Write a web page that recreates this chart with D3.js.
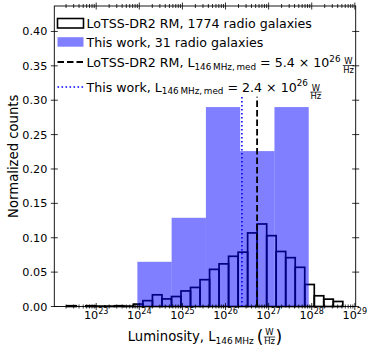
<!DOCTYPE html>
<html>
<head>
<meta charset="utf-8">
<script src="https://cdn.jsdelivr.net/npm/d3@7"></script>
<style>
  body { margin: 0; background: #fff; }
  svg { display: block; font-family: "DejaVu Sans", sans-serif; }
  svg text { white-space: pre; }
</style>
</head>
<body>
<div id="chart"></div>
<script>
// LoTSS-DR2 RM sample: bin edges (log10 L) and normalized counts
const lotssEdges = [22.097, 22.318, 22.539, 22.759, 22.980, 23.201, 23.422, 23.643, 23.863, 24.084,
    24.305, 24.526, 24.747, 24.967, 25.188, 25.409, 25.630, 25.850, 26.071, 26.292,
    26.513, 26.734, 26.955, 27.175, 27.396, 27.617, 27.838, 28.059, 28.279, 28.500, 28.721];
const lotssCounts = [0, 0.0011, 0, 0.0011, 0.0006, 0.0006, 0.0011, 0.0006, 0.0035, 0.0085,
    0.017, 0.011, 0.0145, 0.0226, 0.0277, 0.039, 0.054, 0.062, 0.073, 0.079,
    0.107, 0.120, 0.103, 0.080, 0.071, 0.057, 0.032, 0.0156, 0.0107, 0.0073];

// This work: bin edges (log10 L) and normalized counts
const workEdges = [23.955, 24.750, 25.545, 26.340, 27.135, 27.930];
const workCounts = [0.065, 0.129, 0.290, 0.226, 0.290];

// medians (W/Hz)
const lotssMedian = 5.4e26;
const workMedian = 2.4e26;

const yTicks = [0, 0.05, 0.10, 0.15, 0.20, 0.25, 0.30, 0.35, 0.40];
const xMajor = [22, 23, 24, 25, 26, 27, 28, 29];

const W = 374, H = 353;
const plot = { left: 54.3, right: 355.7, top: 6, bottom: 306.5 };

const svg = d3.select('#chart').append('svg')
    .attr('width', W)
    .attr('height', H);

// pick a font size so that a string has a given width
function fitSize(str, width) {
    const t = svg.append('text').style('font-size', '100px').text(str);
    const w = t.node().getComputedTextLength();
    t.remove();
    return 100 * width / w;
}

const xScale = d3.scaleLog()
    .domain([Math.pow(10, 22.028), Math.pow(10, 29.02)])
    .range([plot.left, plot.right]);

const yScale = d3.scaleLinear()
    .domain([0, 0.437])
    .range([plot.bottom, plot.top]);

const BLUE_FILL = 'rgba(0,0,255,0.5)';
const ex = e => xScale(Math.pow(10, e));

// LoTSS histogram: outlined bars (drawn first, blue bars go on top)
svg.append('g').selectAll('rect')
    .data(lotssCounts)
    .enter()
    .append('rect')
    .attr('x', (d, i) => ex(lotssEdges[i]))
    .attr('width', (d, i) => ex(lotssEdges[i + 1]) - ex(lotssEdges[i]))
    .attr('y', d => yScale(d))
    .attr('height', d => yScale(0) - yScale(d))
    .attr('fill', 'none')
    .attr('stroke', '#000')
    .attr('stroke-width', 1.7);

// This work bars
svg.append('g').selectAll('rect')
    .data(workCounts)
    .enter()
    .append('rect')
    .attr('x', (d, i) => ex(workEdges[i]))
    .attr('width', (d, i) => ex(workEdges[i + 1]) - ex(workEdges[i]))
    .attr('y', d => yScale(d))
    .attr('height', d => yScale(0) - yScale(d))
    .attr('fill', BLUE_FILL);

// median lines
const vTop = 0.305;
svg.append('line')
    .attr('x1', xScale(lotssMedian)).attr('x2', xScale(lotssMedian))
    .attr('y1', yScale(0)).attr('y2', yScale(vTop))
    .attr('stroke', '#000')
    .attr('stroke-width', 1.8)
    .attr('stroke-dasharray', '6.5,3');

svg.append('line')
    .attr('x1', xScale(workMedian)).attr('x2', xScale(workMedian))
    .attr('y1', yScale(0)).attr('y2', yScale(vTop))
    .attr('stroke', '#0000ff')
    .attr('stroke-width', 1.6)
    .attr('stroke-dasharray', '1.6,2.4');

// frame
svg.append('rect')
    .attr('x', plot.left).attr('y', plot.top)
    .attr('width', plot.right - plot.left)
    .attr('height', plot.bottom - plot.top)
    .attr('fill', 'none')
    .attr('stroke', '#000')
    .attr('stroke-width', 0.9);

// ticks
const ticks = svg.append('g').attr('stroke', '#000').attr('stroke-width', 0.8);
const xMinor = [];
xMajor.forEach(e => {
    for (let m = 2; m <= 9; m++) xMinor.push(m * Math.pow(10, e));
});
const xDom = xScale.domain();
xMajor.map(e => Math.pow(10, e)).filter(v => v >= xDom[0] && v <= xDom[1]).forEach(v => {
    const x = xScale(v);
    ticks.append('line').attr('x1', x).attr('x2', x).attr('y1', plot.bottom - 3.5).attr('y2', plot.bottom + 3.5);
    ticks.append('line').attr('x1', x).attr('x2', x).attr('y1', plot.top - 3.5).attr('y2', plot.top + 3.5);
});
xMinor.filter(v => v >= xDom[0] && v <= xDom[1]).forEach(v => {
    const x = xScale(v);
    ticks.append('line').attr('x1', x).attr('x2', x).attr('y1', plot.bottom - 2).attr('y2', plot.bottom + 2);
    ticks.append('line').attr('x1', x).attr('x2', x).attr('y1', plot.top - 2).attr('y2', plot.top + 2);
});
yTicks.forEach(v => {
    const y = yScale(v);
    ticks.append('line').attr('x1', plot.left - 3.5).attr('x2', plot.left + 3.5).attr('y1', y).attr('y2', y);
    ticks.append('line').attr('x1', plot.right - 3.5).attr('x2', plot.right + 3.5).attr('y1', y).attr('y2', y);
});

// y tick labels
const TF = fitSize('0.40', 25);
svg.append('g').selectAll('text')
    .data(yTicks)
    .enter()
    .append('text')
    .attr('x', plot.left - 7)
    .attr('y', d => yScale(d) + 4)
    .attr('text-anchor', 'end')
    .style('font-size', TF + 'px')
    .style('fill', '#000')
    .text(d => d3.format('.2f')(d));

// x tick labels 10^n
xMajor.filter(e => Math.pow(10, e) >= xDom[0] && Math.pow(10, e) <= xDom[1]).forEach(e => {
    const t = svg.append('text')
        .attr('x', xScale(Math.pow(10, e)))
        .attr('y', 318.5)
        .attr('text-anchor', 'middle')
        .style('font-size', TF + 'px');
    t.append('tspan').text('10');
    t.append('tspan').attr('dy', -4.8).style('font-size', (TF * 0.72) + 'px').text(String(e));
});

// write text pieces one after another (sub/superscripts, fractions)
function seq(g, x, base, items) {
    let cx = x;
    items.forEach(it => {
        if (it.frac) {
            const num = g.append('text').attr('y', base + it.bar - 1.6).attr('text-anchor', 'middle')
                .style('font-size', it.size + 'px').text(it.frac[0]);
            const den = g.append('text').attr('y', base + it.bar + 0.75 * it.size + 1).attr('text-anchor', 'middle')
                .style('font-size', it.size + 'px').text(it.frac[1]);
            const w = Math.max(num.node().getComputedTextLength(), den.node().getComputedTextLength()) + 1.2;
            num.attr('x', cx + w / 2);
            den.attr('x', cx + w / 2);
            g.append('line')
                .attr('x1', cx + 0.3).attr('x2', cx + w - 0.3)
                .attr('y1', base + it.bar).attr('y2', base + it.bar)
                .attr('stroke', '#000').attr('stroke-width', 0.7);
            cx += w;
        } else if (it.gap) {
            cx += it.gap;
        } else {
            const t = g.append('text').attr('x', cx).attr('y', base + (it.dy || 0))
                .style('font-size', it.size + 'px')
                .text(it.s);
            cx += t.node().getComputedTextLength();
        }
    });
    return cx - x;
}

// legend
const LF = fitSize('LoTSS-DR2 RM, 1774 radio galaxies', 225.5);
const LS = LF * 0.7;
const legend = svg.append('g').attr('class', 'legend');
const hx0 = 57.5, hx1 = 83.5, tx = 86.5;

// row 1
legend.append('rect')
    .attr('x', hx0).attr('y', 18.5).attr('width', hx1 - hx0).attr('height', 9.5)
    .attr('fill', 'none').attr('stroke', '#000').attr('stroke-width', 1.6);
seq(legend, tx, 28.3, [{ s: 'LoTSS-DR2 RM, 1774 radio galaxies', size: LF }]);

// row 2
legend.append('rect')
    .attr('x', hx0).attr('y', 37.2).attr('width', hx1 - hx0).attr('height', 9.5)
    .attr('fill', BLUE_FILL);
seq(legend, tx, 46.8, [{ s: 'This work, 31 radio galaxies', size: LF }]);

// row 3
legend.append('line')
    .attr('x1', hx0).attr('x2', hx1).attr('y1', 62).attr('y2', 62)
    .attr('stroke', '#000').attr('stroke-width', 1.8).attr('stroke-dasharray', '6.5,3');
seq(legend, tx, 67, [
    { s: 'LoTSS-DR2 RM, L', size: LF },
    { s: '146\u2009MHz,\u2009med', size: LS, dy: 2.8 },
    { s: ' = 5.4 \u00d7 10', size: LF },
    { s: '26', size: LS, dy: -5.3 },
    { gap: 2 },
    { frac: ['W', 'Hz'], size: LS * 0.95, bar: -1.5 }
]);

// row 4
legend.append('line')
    .attr('x1', hx0).attr('x2', hx1).attr('y1', 87).attr('y2', 87)
    .attr('stroke', '#0000ff').attr('stroke-width', 1.6).attr('stroke-dasharray', '1.6,2.4');
seq(legend, tx, 91.6, [
    { s: 'This work, L', size: LF },
    { s: '146\u2009MHz,\u2009med', size: LS, dy: 2.8 },
    { s: ' = 2.4 \u00d7 10', size: LF },
    { s: '26', size: LS, dy: -5.3 },
    { gap: 2 },
    { frac: ['W', 'Hz'], size: LS * 0.95, bar: 0.5 }
]);

// x axis label
const AF = fitSize('Luminosity, L', 88);
const xl = svg.append('g');
const xlw = seq(xl, 0, 341, [
    { s: 'Luminosity, L', size: AF },
    { s: '146\u2009MHz', size: AF * 0.68, dy: 2.8 },
    { gap: 3 },
    { s: '(', size: AF * 1.3, dy: 1.5 },
    { frac: ['W', 'Hz'], size: AF * 0.64, bar: -4 },
    { s: ')', size: AF * 1.3, dy: 1.5 }
]);
xl.attr('transform', `translate(${(plot.left + plot.right) / 2 - xlw / 2},0)`);

// y axis label
svg.append('text')
    .attr('transform', `translate(18,${(plot.top + plot.bottom) / 2}) rotate(-90)`)
    .attr('text-anchor', 'middle')
    .style('font-size', AF + 'px')
    .text('Normalized counts');
</script>
</body>
</html>
